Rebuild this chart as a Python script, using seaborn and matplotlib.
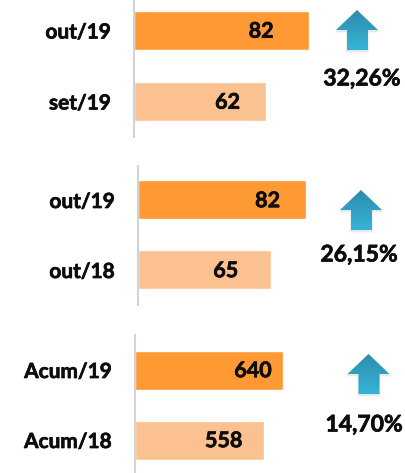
import numpy as np
import pandas as pd
import seaborn as sns
import matplotlib.pyplot as plt
import matplotlib.patheffects as pe
from matplotlib.patches import Polygon

W, H = 406, 473

# data
labels_a = ["out/19", "set/19"]
values_a = [82, 62]
labels_b = ["out/19", "out/18"]
values_b = [82, 65]
labels_c = ["Acum/19", "Acum/18"]
values_c = [640, 558]
pct_labels = ["32,26%", "26,15%", "14,70%"]

sns.set_theme(style="white")
plt.rcParams["font.family"] = ["Lato", "DejaVu Sans"]

colors = ["#FF9933", "#FBC190"]
FS = 15
BOLD = [pe.withStroke(linewidth=0.5, foreground="#0d0d0d")]


def draw_panel(fig, labels, values, box, px_per_unit, first_center, spacing, val_off):
    # box = left, top, right, bottom in pixels
    left, top, right, bottom = box
    ax = fig.add_axes([left / W, 1 - bottom / H, (right - left) / W, (bottom - top) / H])
    df = pd.DataFrame({"label": labels, "value": values})
    sns.barplot(data=df, y="label", x="value", hue="label", palette=colors,
                legend=False, width=39 / spacing, saturation=1, ax=ax)
    ax.set_xlim(0, (right - left) / px_per_unit)
    y0 = -(first_center - top) / spacing
    ax.set_ylim(y0 + (bottom - top) / spacing, y0)
    ax.set_xlabel("")
    ax.set_ylabel("")
    ax.set_xticks([])
    ax.tick_params(axis="y", length=0, pad=16.5)
    for t in ax.get_yticklabels():
        t.set_fontsize(FS)
        t.set_fontweight("bold")
        t.set_color("#0d0d0d")
        t.set_path_effects(BOLD)
    sns.despine(ax=ax, top=True, right=True, bottom=True)
    ax.spines["left"].set_color("#d3d3d3")
    ax.spines["left"].set_linewidth(1.5)
    for i, v in enumerate(values):
        ax.annotate(str(v), xy=(v, i), xytext=(val_off[i] * 0.72, -0.5), textcoords="offset points",
                    ha="right", va="center", fontsize=15.5, fontweight="bold", color="#0d0d0d",
                    path_effects=BOLD)
    return ax


fig = plt.figure(figsize=(W / 100, H / 100), dpi=100)
fig.patch.set_facecolor("white")

draw_panel(fig, labels_a, values_a, (134, 0, 330, 137), 2.13, 30.5, 71, [-35, -26])
draw_panel(fig, labels_b, values_b, (138, 166, 330, 305), 2.05, 200, 70, [-26, -33])
draw_panel(fig, labels_c, values_c, (135, 335, 330, 473), 0.232, 370, 70, [-12, -22])

# overlay in pixel coords for the arrows and percentages
ov = fig.add_axes([0, 0, 1, 1], zorder=5)
ov.set_xlim(0, W)
ov.set_ylim(H, 0)
ov.axis("off")
ov.patch.set_alpha(0)


def arrow(cx, tip):
    pts = [(cx, tip), (cx + 21, tip + 20), (cx + 11, tip + 20), (cx + 11, tip + 40),
           (cx - 10, tip + 40), (cx - 10, tip + 20), (cx - 21, tip + 20)]
    # soft shadow
    for grow, a in [(2.0, 0.04), (1.0, 0.06)]:
        shadow = [(x, y + 1.5) for x, y in pts]
        ov.add_patch(Polygon(shadow, closed=True, fc="#5a6a70", ec="#5a6a70", lw=grow, alpha=a))
    grad = np.linspace(0, 1, 64).reshape(-1, 1)
    top_c = np.array([0x2E, 0x8C, 0xAB]) / 255
    bot_c = np.array([0x35, 0xB4, 0xD8]) / 255
    img = top_c + (bot_c - top_c) * grad[..., None]
    im = ov.imshow(img, extent=(cx - 22, cx + 22, tip + 40, tip), aspect="auto", zorder=3)
    poly = Polygon(pts, closed=True, transform=ov.transData, fc="none", ec="none")
    ov.add_patch(poly)
    im.set_clip_path(poly)


arrow(357, 10)
arrow(361, 190)
arrow(368.5, 354)
ov.set_xlim(0, W)
ov.set_ylim(H, 0)

for (x, y), s in zip([(362, 79), (359, 255), (364, 425)], pct_labels):
    ov.text(x, y, s, ha="center", va="center", fontsize=16.5, fontweight="bold", color="#0d0d0d",
            path_effects=BOLD)

fig.savefig("out.png", dpi=100)
